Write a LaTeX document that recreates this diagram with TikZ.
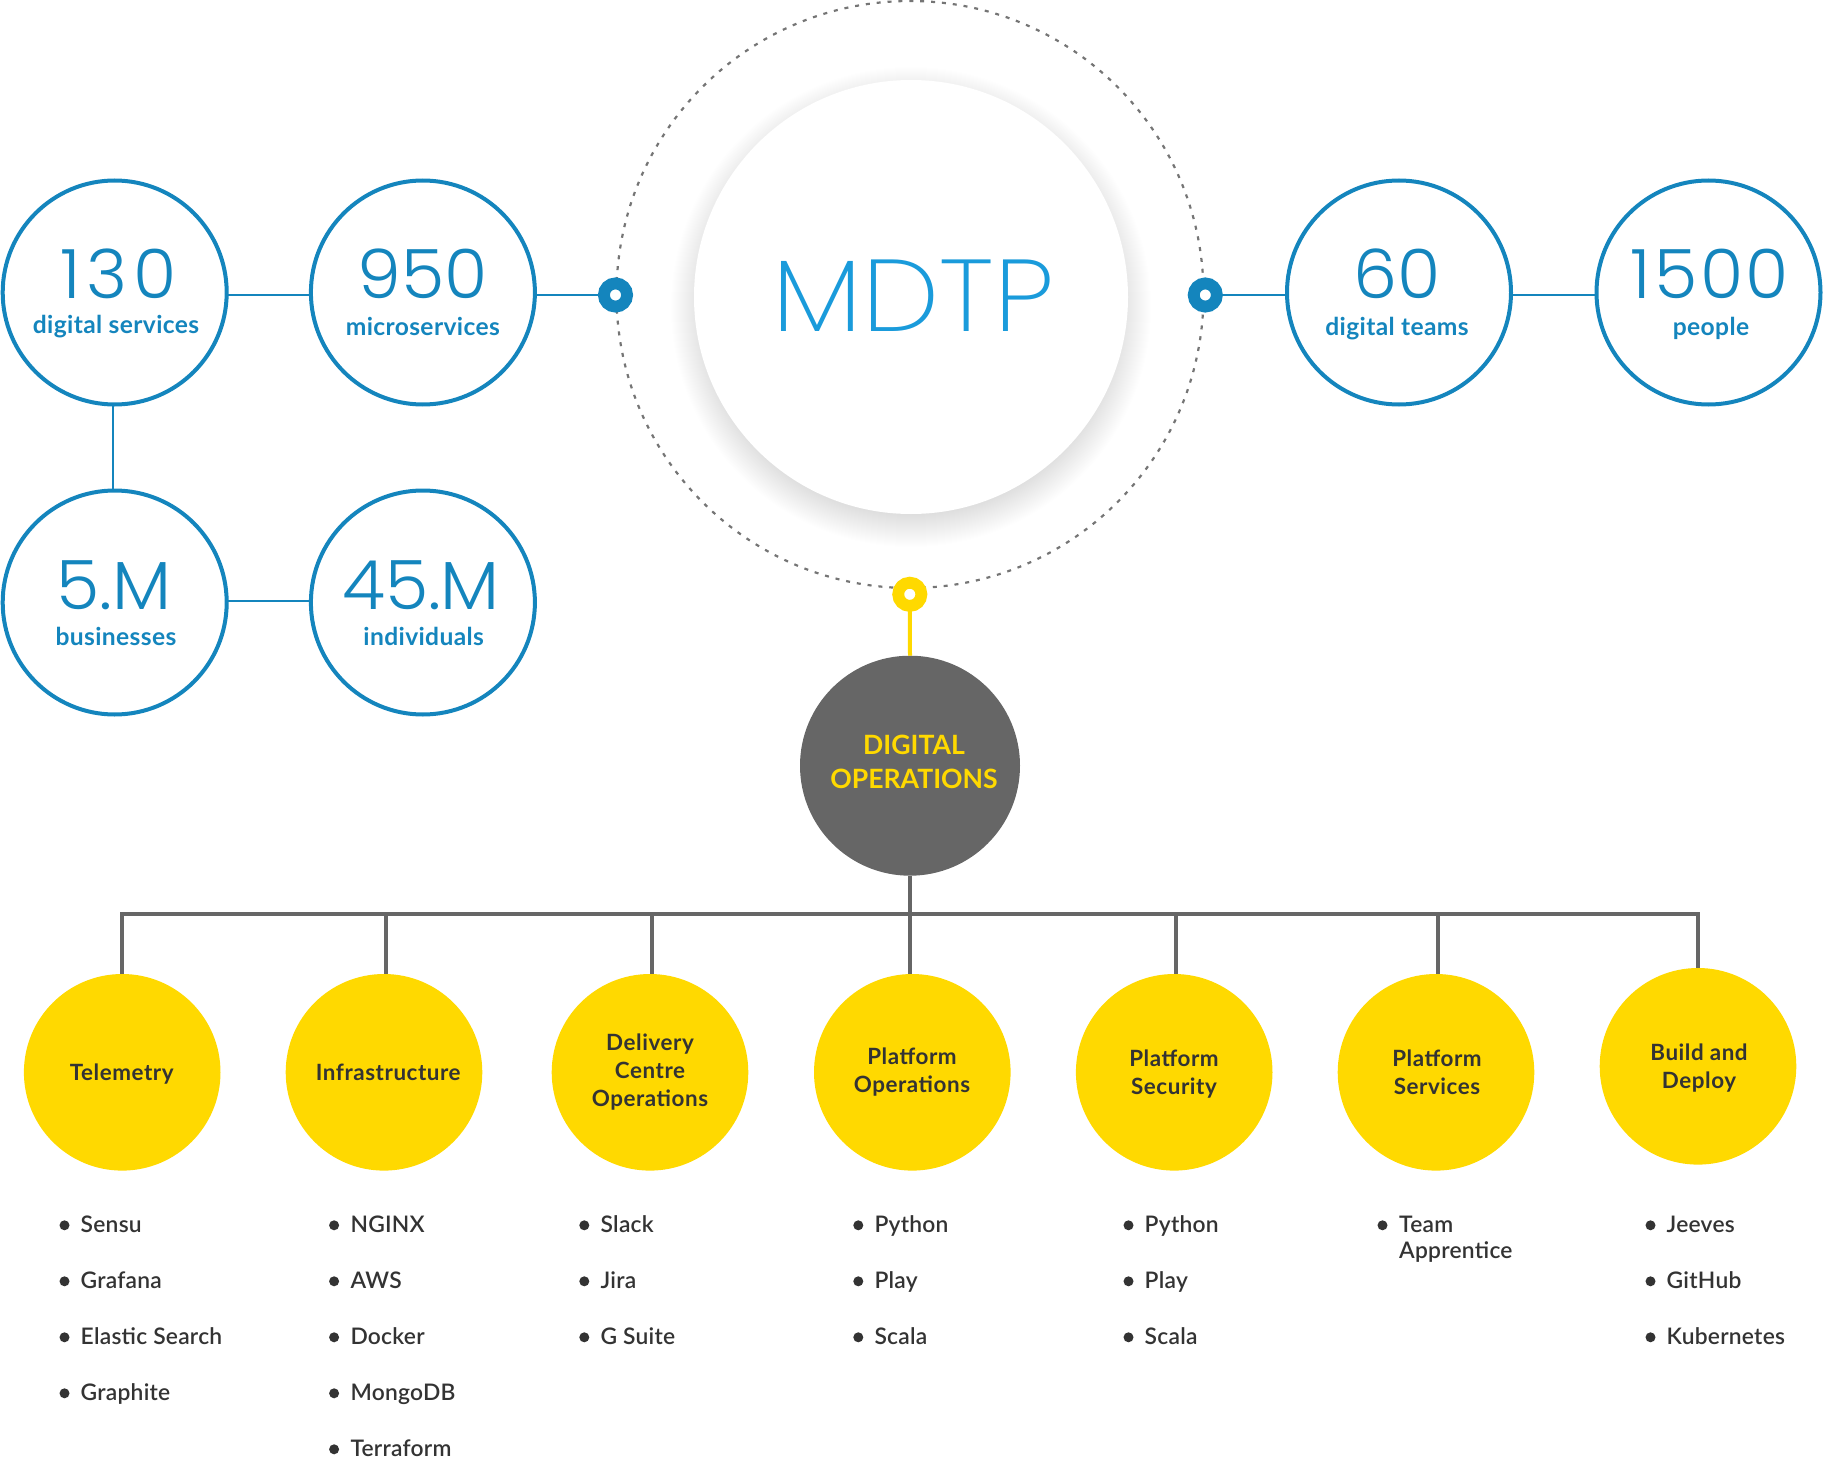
\documentclass[tikz,border=0pt]{standalone}
\usepackage{fontspec}
\setmainfont{Lato}
\newfontfamily\medf{Lato Semibold}[LetterSpace=1.1]
\newfontfamily\boldf{Lato Bold}
\newfontfamily\labf{Lato Bold}[LetterSpace=1.5]
\newfontfamily\teamf{Lato Bold}[LetterSpace=2.5]
\newfontfamily\lightf{Poppins Light}[FakeStretch=1.03]
\newfontfamily\xlightf{Poppins ExtraLight}[FakeStretch=1.075]
\definecolor{statblue}{HTML}{1485BD}
\definecolor{mdtpblue}{HTML}{1A9BDB}
\definecolor{gold}{HTML}{FFD900}
\definecolor{slate}{HTML}{666666}
\definecolor{ink}{HTML}{333333}
\tikzset{
  stat/.style={circle,draw=statblue,line width=4pt,minimum size=224pt,inner sep=0pt,outer sep=0pt},
  link/.style={draw=statblue,line width=2pt},
  ringb/.style={circle,draw=statblue,fill=white,line width=11.8pt,minimum size=23.2pt,inner sep=0pt,outer sep=0pt},
  ringy/.style={ringb,draw=gold},
  num/.style={anchor=base,inner sep=0pt,text=statblue,font=\lightf\fontsize{68}{68}\selectfont},
  lab/.style={anchor=base,inner sep=0pt,text=statblue,font=\labf\fontsize{24.6}{28}\selectfont},
  team/.style={circle,fill=gold,minimum size=196.6pt,inner sep=0pt,outer sep=0pt},
  teamlab/.style={anchor=base,inner sep=0pt,text=ink,align=center,font=\teamf\fontsize{22.4}{28}\selectfont},
  bus/.style={draw=slate,line width=4pt},
  dot/.style={circle,fill=ink,minimum size=10pt,inner sep=0pt,outer sep=0pt},
  item/.style={anchor=base west,inner sep=0pt,text=ink,font=\medf\fontsize{22.8}{26}\selectfont},
}
\begin{document}
\begin{tikzpicture}[x=1pt,y=-1pt]
\useasboundingbox (0,0) rectangle (1824,1482);
% dashed orbit
\node[circle,draw=slate!90,dash pattern=on 4pt off 6.9pt,line width=2.2pt,minimum size=587pt,inner sep=0pt] (orbit) at (910,294.5) {};
% shadow
\foreach \k in {0,...,33}{
  \fill[black,opacity=0.004] (911,307) circle ({240-\k});
}
\node[circle,fill=white,minimum size=434pt,inner sep=0pt,outer sep=0pt] (mdtp) at (911,297) {};
\node[anchor=base,inner sep=0pt,text=mdtpblue,font=\xlightf\fontsize{102}{102}\selectfont] (mdtpt) at (913.5,331.4) {MDTP};
% stat circles
\node[stat] (s130) at (114.7,292.5) {};
\node[stat] (s950) at (422.9,292.5) {};
\node[stat] (s5) at (114.7,602.5) {};
\node[stat] (s45) at (422.9,602.5) {};
\node[stat] (s60) at (1399,292.5) {};
\node[stat] (s1500) at (1708.5,292.5) {};
\node[num] (n130) at (118.5,298.5) {\addfontfeature{LetterSpace=8}130};
\node[num] (n950) at (422.6,298.5) {950};
\node[num] (n5) at (114,609) {5.M};
\node[num] (n45) at (421,609) {45.M};
\node[num] (n60) at (1397,298.5) {60};
\node[num] (n1500) at (1710,298.5) {\addfontfeature{LetterSpace=4}1500};
\node[lab] (l130) at (116,333) {digital services};
\node[lab] (l950) at (422.8,335) {microservices};
\node[lab] (l5) at (116,645.5) {businesses};
\node[lab] (l45) at (423.7,645.5) {individuals};
\node[lab] (l60) at (1397,335) {digital teams};
\node[lab] (l1500) at (1711,335) {people};
% rings
\node[ringb] (rl) at (615.5,295) {};
\node[ringb] (rr) at (1205.3,295) {};
\node[ringy] (ry) at (909.8,594.3) {};
% blue connectors
\draw[link] ([yshift=-2.5pt]s130.east) -- ([yshift=-2.5pt]s950.west);
\draw[link] ([yshift=-2.5pt]s950.east) -- (rl.west);
\draw[link] ([xshift=-2pt]s130.south) -- ([xshift=-2pt]s5.north);
\draw[link] ([yshift=1.7pt]s5.east) -- ([yshift=1.7pt]s45.west);
\draw[link] (rr.east) -- ([yshift=-2.5pt]s60.west);
\draw[link] ([yshift=-2.5pt]s60.east) -- ([yshift=-2.5pt]s1500.west);
% operations
\node[circle,fill=slate,minimum size=220pt,inner sep=0pt,outer sep=0pt] (dops) at (910,765.7) {};
\node[anchor=base,inner sep=0pt,text=gold,align=center,font=\boldf\fontsize{26.6}{33.3}\selectfont] (dopst) at (914,788) {DIGITAL\\OPERATIONS};
\draw[draw=gold,line width=4pt] (ry.south) -- (dops.north);
% teams
\node[team] (tele) at (122.2,1072.3) {};
\node[team] (infra) at (384,1072.3) {};
\node[team] (deliv) at (650,1072.3) {};
\node[team] (pops) at (912.3,1072.3) {};
\node[team] (psec) at (1174.2,1072.3) {};
\node[team] (psvc) at (1436,1072.3) {};
\node[team] (build) at (1698,1066.3) {};
\coordinate (bl) at (122.2,914);
\coordinate (br) at (1698,914);
\draw[bus] (tele.north) -- (bl) -- (br) -- (build.north);
\draw[bus] (385.5,914) coordinate (b2) -- (b2 |- infra.north);
\draw[bus] (652,914) coordinate (b3) -- (b3 |- deliv.north);
\draw[bus] (1176,914) coordinate (b5) -- (b5 |- psec.north);
\draw[bus] (1438,914) coordinate (b6) -- (b6 |- psvc.north);
\draw[bus] (dops.south) -- (dops.south |- pops.north);
\node[teamlab] (t1) at (121.8,1080) {Telemetry};
\node[teamlab] (t2) at (388.3,1080) {Infrastructure};
\node[teamlab] (t3) at (650,1106) {Delivery\\Centre\\Operations};
\node[teamlab] (t4) at (912,1092) {Platform\\Operations};
\node[teamlab] (t5) at (1174,1094.3) {Platform\\Security};
\node[teamlab] (t6) at (1437,1094.3) {Platform\\Services};
\node[teamlab] (t7) at (1699,1088) {Build and\\Deploy};
% lists
\foreach \t [count=\i] in {Sensu,Grafana,Elastic Search,Graphite}{
  \node[dot] (da\i) at (64.5,{1225.3+56*(\i-1)}) {};
  \node[item] (ia\i) at (80.5,{1232+56*(\i-1)}) {\t};
}
\foreach \t [count=\i] in {NGINX,AWS,Docker,MongoDB,Terraform}{
  \node[dot] (db\i) at (334.1,{1225.3+56*(\i-1)}) {};
  \node[item] (ib\i) at (350.3,{1232+56*(\i-1)}) {\t};
}
\foreach \t [count=\i] in {Slack,Jira,G Suite}{
  \node[dot] (dc\i) at (584.3,{1225.3+56*(\i-1)}) {};
  \node[item] (ic\i) at (600.5,{1232+56*(\i-1)}) {\t};
}
\foreach \t [count=\i] in {Python,Play,Scala}{
  \node[dot] (dd\i) at (858.3,{1225.3+56*(\i-1)}) {};
  \node[item] (id\i) at (874.3,{1232+56*(\i-1)}) {\t};
}
\foreach \t [count=\i] in {Python,Play,Scala}{
  \node[dot] (de\i) at (1128.5,{1225.3+56*(\i-1)}) {};
  \node[item] (ie\i) at (1144.5,{1232+56*(\i-1)}) {\t};
}
\node[dot] (df1) at (1382.5,1225.3) {};
\node[item] (if1) at (1399,1232) {Team};
\node[item] (if2) at (1399,1258) {Apprentice};
\foreach \t [count=\i] in {Jeeves,GitHub,Kubernetes}{
  \node[dot] (dg\i) at (1650.5,{1225.3+56*(\i-1)}) {};
  \node[item] (ig\i) at (1666.5,{1232+56*(\i-1)}) {\t};
}
\end{tikzpicture}
\end{document}
